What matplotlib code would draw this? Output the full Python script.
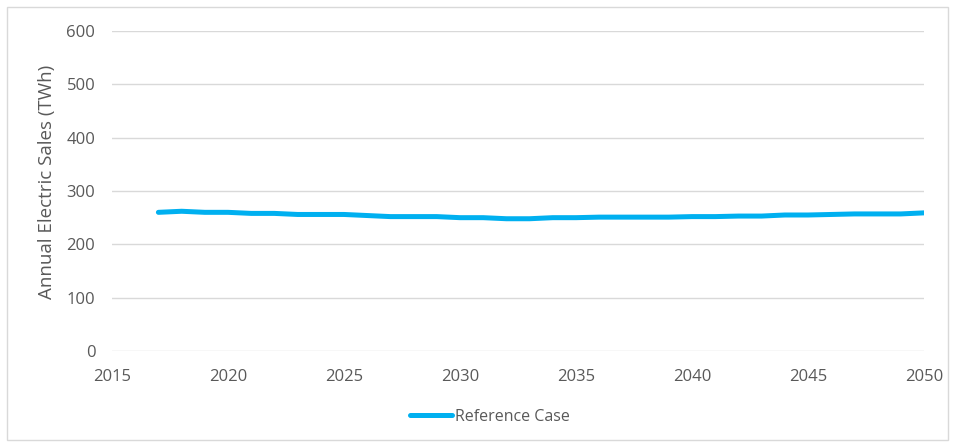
import matplotlib
matplotlib.use("Agg")
import matplotlib.pyplot as plt
from matplotlib.patches import Rectangle

years = list(range(2017, 2051))
reference_case = [260, 262, 260, 260, 258, 258, 256, 256, 256, 254,
                  252, 252, 252, 250, 250, 248, 248, 250, 250, 251,
                  251, 251, 251, 252, 252, 253, 253, 255, 255, 256,
                  257, 257, 257, 259]
x_ticks = [2015, 2020, 2025, 2030, 2035, 2040, 2045, 2050]
y_ticks = [0, 100, 200, 300, 400, 500, 600]

plt.rcParams['font.family'] = ['Open Sans', 'DejaVu Sans']
text_color = '#595959'

fig = plt.figure(figsize=(9.56, 4.45), dpi=100)
ax = fig.add_axes([112/956, 1 - 351/445, (924 - 112)/956, (351 - 31)/445])

ax.plot(years, reference_case, color='#00B0F0', lw=3.6,
        solid_capstyle='round', label='Reference Case')

ax.set_xlim(2015, 2050)
ax.set_ylim(0, 600)
ax.set_xticks(x_ticks)
ax.set_yticks(y_ticks)
ax.tick_params(length=0, labelsize=12, colors=text_color)
ax.tick_params(axis='x', pad=13)
ax.tick_params(axis='y', pad=12)
ax.yaxis.grid(True, color='#D9D9D9', lw=1)
ax.set_axisbelow(True)
for s in ax.spines.values():
    s.set_visible(False)
ax.set_ylabel('Annual Electric Sales (TWh)', fontsize=13.5, color=text_color)
ax.yaxis.set_label_coords(-0.069, 0.53)

leg = fig.legend(loc='center', bbox_to_anchor=(490/956, 1 - 417/445), frameon=False,
                 fontsize=11.5, handlelength=2.6, handletextpad=0.2)
for t in leg.get_texts():
    t.set_color(text_color)

# outer chart border
fig.patches.append(Rectangle((7/956, 5/445), 941/956, 433/445, transform=fig.transFigure,
                             fill=False, edgecolor='#D9D9D9', lw=1))

fig.savefig('out.png', dpi=100)
